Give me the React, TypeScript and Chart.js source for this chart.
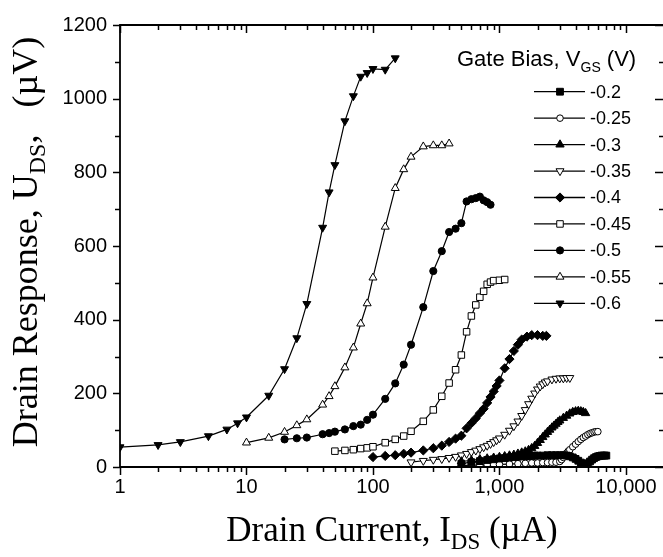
import React, { useEffect, useRef } from 'react';
import { Chart, registerables } from 'chart.js';

Chart.register(...registerables);

// ---------- data ----------
const seriesLabels = ['-0.2', '-0.25', '-0.3', '-0.35', '-0.4', '-0.45', '-0.5', '-0.55', '-0.6'];

const x_m020 = [500, 600, 700, 800, 900, 1000, 1100, 1200, 1300, 1400, 1500, 1600, 1700, 1800, 1900, 2000, 2200, 2400, 2600, 2800, 3000, 3200, 3400, 3600, 3800, 4000, 4200, 4400, 4600, 4800, 5000, 5200, 5400, 5600, 5800, 6000, 6200, 6400, 6600, 6800, 7000];
const y_m020 = [9, 13, 16, 19, 21, 23, 24, 26, 27, 28, 29, 29, 30, 30, 31, 31, 31, 32, 32, 32, 32, 32, 31, 29, 26, 22, 17, 12, 9, 8, 10, 15, 20, 24, 27, 29, 30, 31, 31, 31, 31];

const x_m025 = [500, 600, 700, 800, 900, 1000, 1200, 1400, 1600, 1800, 2000, 2200, 2400, 2600, 2800, 3000, 3100, 3200, 3300, 3400, 3500, 3600, 3800, 4000, 4200, 4400, 4600, 4800, 5000, 5200, 5400, 5600, 5800, 6000];
const y_m025 = [4, 5, 5, 6, 6, 7, 8, 9, 10, 11, 11, 12, 12, 13, 13, 15, 20, 26, 33, 38, 43, 47, 55, 62, 69, 75, 80, 84, 88, 91, 93, 95, 96, 96];

const x_m030 = [500, 600, 700, 800, 900, 1000, 1100, 1200, 1300, 1400, 1500, 1600, 1700, 1800, 1900, 2000, 2100, 2200, 2300, 2400, 2500, 2600, 2700, 2800, 2900, 3000, 3200, 3400, 3600, 3800, 4000, 4200, 4400, 4600, 4800];
const y_m030 = [15, 18, 21, 23, 25, 27, 29, 31, 33, 36, 39, 42, 46, 51, 57, 65, 73, 81, 88, 95, 101, 107, 112, 117, 122, 126, 133, 139, 145, 149, 151, 152, 151, 149, 146];

const x_m035 = [200, 250, 300, 350, 400, 450, 500, 550, 600, 650, 700, 750, 800, 850, 900, 950, 1000, 1100, 1200, 1300, 1400, 1500, 1600, 1700, 1800, 1900, 2000, 2100, 2200, 2300, 2400, 2600, 2800, 3000, 3200, 3400, 3600];
const y_m035 = [13, 17, 20, 22, 25, 28, 32, 36, 41, 45, 49, 54, 58, 63, 68, 73, 78, 88, 99, 111, 124, 139, 155, 171, 186, 200, 211, 219, 225, 230, 233, 238, 240, 241, 241, 242, 242];

const x_m040 = [100, 125, 150, 175, 200, 250, 300, 350, 400, 450, 500, 550, 600, 650, 700, 750, 800, 850, 900, 950, 1000, 1100, 1200, 1300, 1400, 1500, 1650, 1800, 2000, 2200, 2350];
const y_m040 = [27, 30, 32, 36, 39, 45, 51, 58, 68, 77, 85, 105, 119, 132, 146, 158, 174, 190, 205, 220, 235, 268, 293, 315, 332, 346, 354, 358, 358, 356, 356];

const x_m045 = [50, 60, 70, 80, 90, 100, 125, 150, 175, 200, 250, 300, 350, 400, 450, 500, 550, 600, 650, 700, 750, 800, 850, 900, 1000, 1100];
const y_m045 = [43, 45, 47, 50, 52, 55, 66, 75, 84, 97, 124, 155, 192, 228, 264, 304, 367, 410, 440, 461, 477, 496, 502, 506, 507, 509];

const x_m050 = [20, 25, 30, 40, 45, 50, 60, 70, 80, 90, 100, 125, 150, 175, 200, 250, 300, 350, 400, 450, 500, 550, 600, 650, 700, 750, 800, 850];
const y_m050 = [75, 78, 80, 89, 92, 96, 102, 111, 115, 128, 142, 185, 227, 278, 332, 434, 532, 586, 638, 647, 662, 721, 727, 730, 734, 724, 719, 712];

const x_m055 = [10, 15, 20, 25, 30, 40, 45, 50, 60, 70, 80, 90, 100, 125, 150, 175, 200, 250, 300, 350, 400];
const y_m055 = [66, 79, 95, 113, 129, 169, 192, 219, 270, 324, 389, 444, 514, 652, 757, 808, 842, 870, 873, 873, 878];

const x_m060 = [1, 2, 3, 5, 7, 8.5, 10, 15, 20, 25, 30, 40, 45, 50, 60, 70, 80, 90, 100, 125, 150];
const y_m060 = [54, 60, 68, 84, 102, 119, 135, 194, 266, 350, 443, 650, 746, 820, 939, 1007, 1060, 1070, 1081, 1079, 1110];

const xTickValues = [1, 10, 100, 1000, 10000];
const yTickStep = 200;

// ---------- styles ----------
type Mk = { style: string; filled: boolean; rot: number; r: number };
const markers: Mk[] = [
  { style: 'rect', filled: true, rot: 0, r: 4.8 },
  { style: 'circle', filled: false, rot: 0, r: 3.3 },
  { style: 'triangle', filled: true, rot: 0, r: 4.8 },
  { style: 'triangle', filled: false, rot: 180, r: 4.6 },
  { style: 'rectRot', filled: true, rot: 0, r: 4.6 },
  { style: 'rect', filled: false, rot: 0, r: 4.6 },
  { style: 'circle', filled: true, rot: 0, r: 3.6 },
  { style: 'triangle', filled: false, rot: 0, r: 4.6 },
  { style: 'triangle', filled: true, rot: 180, r: 4.6 },
];

const xsAll = [x_m020, x_m025, x_m030, x_m035, x_m040, x_m045, x_m050, x_m055, x_m060];
const ysAll = [y_m020, y_m025, y_m030, y_m035, y_m040, y_m045, y_m050, y_m055, y_m060];

const SANS = "'Liberation Sans', Arial, Helvetica, sans-serif";
const SERIF = "'Liberation Serif', 'Times New Roman', Times, serif";

const CANVAS_W = 680;
const CANVAS_H = 557;

function drawMarker(ctx: CanvasRenderingContext2D, mk: Mk, x: number, y: number) {
  ctx.save();
  ctx.beginPath();
  const r = mk.r;
  if (mk.style === 'circle') {
    ctx.arc(x, y, r, 0, Math.PI * 2);
  } else if (mk.style === 'rect') {
    const s = Math.SQRT1_2 * r;
    ctx.rect(x - s, y - s, 2 * s, 2 * s);
  } else if (mk.style === 'rectRot') {
    ctx.moveTo(x, y - r);
    ctx.lineTo(x + r, y);
    ctx.lineTo(x, y + r);
    ctx.lineTo(x - r, y);
    ctx.closePath();
  } else if (mk.style === 'triangle') {
    let a = (mk.rot * Math.PI) / 180;
    ctx.moveTo(x + Math.sin(a) * r, y - Math.cos(a) * r);
    a += (2 * Math.PI) / 3;
    ctx.lineTo(x + Math.sin(a) * r, y - Math.cos(a) * r);
    a += (2 * Math.PI) / 3;
    ctx.lineTo(x + Math.sin(a) * r, y - Math.cos(a) * r);
    ctx.closePath();
  }
  ctx.fillStyle = mk.filled ? '#000' : '#fff';
  ctx.fill();
  ctx.lineWidth = 1;
  ctx.strokeStyle = '#000';
  ctx.stroke();
  ctx.restore();
}

type Part = { t: string; sub?: boolean };
function richWidth(ctx: CanvasRenderingContext2D, parts: Part[], font: string, subFont: string) {
  let w = 0;
  for (const p of parts) {
    ctx.font = p.sub ? subFont : font;
    w += ctx.measureText(p.t).width;
  }
  return w;
}
function drawRich(ctx: CanvasRenderingContext2D, parts: Part[], x: number, y: number, font: string, subFont: string, subDy: number) {
  let cx = x;
  ctx.textBaseline = 'alphabetic';
  ctx.textAlign = 'left';
  for (const p of parts) {
    ctx.font = p.sub ? subFont : font;
    ctx.fillText(p.t, cx, p.sub ? y + subDy : y);
    cx += ctx.measureText(p.t).width;
  }
}

const framePlugin = {
  id: 'frame',
  afterDraw(chart: any) {
    const ctx: CanvasRenderingContext2D = chart.ctx;
    const { left, right, top, bottom } = chart.chartArea;
    const xs = chart.scales.x;
    const ys = chart.scales.y;
    ctx.save();
    ctx.strokeStyle = '#000';
    ctx.fillStyle = '#000';

    // frame
    ctx.lineWidth = 1.8;
    ctx.beginPath();
    ctx.rect(left, top, right - left, bottom - top);
    ctx.stroke();

    // x ticks (bottom outward, top inward)
    ctx.lineWidth = 1.5;
    ctx.beginPath();
    for (let d = 1; d <= 10000; d *= 10) {
      for (let k = 1; k <= 9; k++) {
        const v = k * d;
        if (v > xs.max) break;
        const px = Math.round(xs.getPixelForValue(v)) + 0.5;
        const major = k === 1;
        ctx.moveTo(px, bottom);
        ctx.lineTo(px, bottom + (major ? 8 : 5));
        ctx.moveTo(px, top);
        ctx.lineTo(px, top + (major ? 8 : 5));
      }
    }
    // y ticks (left outward, right inward)
    for (let v = 0; v <= 1200; v += 100) {
      const py = Math.round(ys.getPixelForValue(v)) + 0.5;
      const major = v % 200 === 0;
      ctx.moveTo(left, py);
      ctx.lineTo(left - (major ? 7 : 5), py);
      ctx.moveTo(right, py);
      ctx.lineTo(right - (major ? 9 : 5), py);
    }
    ctx.stroke();

    // x title
    const tf = `35px ${SERIF}`;
    const tsf = `23px ${SERIF}`;
    const xParts: Part[] = [{ t: 'Drain Current, I' }, { t: 'DS', sub: true }, { t: ' (\u00b5A)' }];
    const xw = richWidth(ctx, xParts, tf, tsf);
    drawRich(ctx, xParts, 392 - xw / 2, 541, tf, tsf, 8);

    // y title
    const yf = `36px ${SERIF}`;
    const ysf = `24px ${SERIF}`;
    const yParts: Part[] = [{ t: 'Drain Response, U' }, { t: 'DS', sub: true }, { t: ',   (\u00b5V)' }];
    const yw = richWidth(ctx, yParts, yf, ysf);
    ctx.save();
    ctx.translate(37, 242);
    ctx.rotate(-Math.PI / 2);
    drawRich(ctx, yParts, -yw / 2, 0, yf, ysf, 8);
    ctx.restore();

    // legend title
    const lf = `22px ${SANS}`;
    const lsf = `14px ${SANS}`;
    drawRich(ctx, [{ t: 'Gate Bias, V' }, { t: 'GS', sub: true }, { t: ' (V)' }], 457, 66, lf, lsf, 6);

    // legend entries
    const rowY0 = 91.7;
    const rowH = 26.45;
    for (let i = 0; i < seriesLabels.length; i++) {
      const y = rowY0 + i * rowH;
      ctx.lineWidth = 1.3;
      ctx.strokeStyle = '#000';
      ctx.beginPath();
      ctx.moveTo(534, y);
      ctx.lineTo(585, y);
      ctx.stroke();
      drawMarker(ctx, markers[i], 560, y);
      ctx.font = `18px ${SANS}`;
      ctx.textAlign = 'left';
      ctx.textBaseline = 'middle';
      ctx.fillStyle = '#000';
      ctx.fillText(seriesLabels[i], 590, y + 1);
    }
    ctx.restore();
  },
};

export default function App() {
  const ref = useRef<HTMLCanvasElement | null>(null);
  useEffect(() => {
    if (!ref.current) return;
    const datasets = seriesLabels.map((lab, i) => ({
      label: lab,
      data: xsAll[i].map((x, j) => ({ x, y: ysAll[i][j] })),
      showLine: true,
      borderColor: '#000',
      borderWidth: 1.2,
      pointStyle: markers[i].style,
      pointRotation: markers[i].rot,
      pointRadius: markers[i].r,
      pointBorderWidth: 1,
      pointBorderColor: '#000',
      pointBackgroundColor: markers[i].filled ? '#000' : '#fff',
      tension: 0,
    }));
    const chart = new Chart(ref.current, {
      type: 'scatter',
      data: { datasets },
      options: {
        animation: false,
        responsive: false,
        maintainAspectRatio: false,
        devicePixelRatio: 1,
        layout: { padding: { left: 0, top: 22, right: CANVAS_W - 664, bottom: 0 } },
        plugins: { legend: { display: false }, tooltip: { enabled: false } },
        scales: {
          x: {
            type: 'logarithmic',
            min: 1,
            max: 20000,
            grid: { display: false, drawTicks: false },
            border: { display: false },
            afterBuildTicks: (s: any) => {
              s.ticks = xTickValues.map((v) => ({ value: v }));
            },
            afterFit: (s: any) => {
              s.height = CANVAS_H - 467;
            },
            ticks: {
              autoSkip: false,
              maxRotation: 0,
              minRotation: 0,
              padding: 8,
              color: '#000',
              font: { family: SANS, size: 20 },
              callback: (v: any) => Number(v).toLocaleString('en-US'),
            },
          },
          y: {
            type: 'linear',
            min: 0,
            max: 1200,
            grid: { display: false, drawTicks: false },
            border: { display: false },
            afterFit: (s: any) => {
              s.width = 120;
            },
            ticks: {
              stepSize: yTickStep,
              padding: 13,
              color: '#000',
              font: { family: SANS, size: 20 },
              callback: (v: any) => String(v),
            },
          },
        },
      } as any,
      plugins: [framePlugin],
    });
    return () => chart.destroy();
  }, []);
  return (
    <div style={{ position: 'fixed', left: 0, top: 0, width: 663, height: 557, overflow: 'hidden', background: '#fff' }}>
      <canvas ref={ref} width={CANVAS_W} height={CANVAS_H} style={{ display: 'block', width: CANVAS_W, height: CANVAS_H }} />
    </div>
  );
}
